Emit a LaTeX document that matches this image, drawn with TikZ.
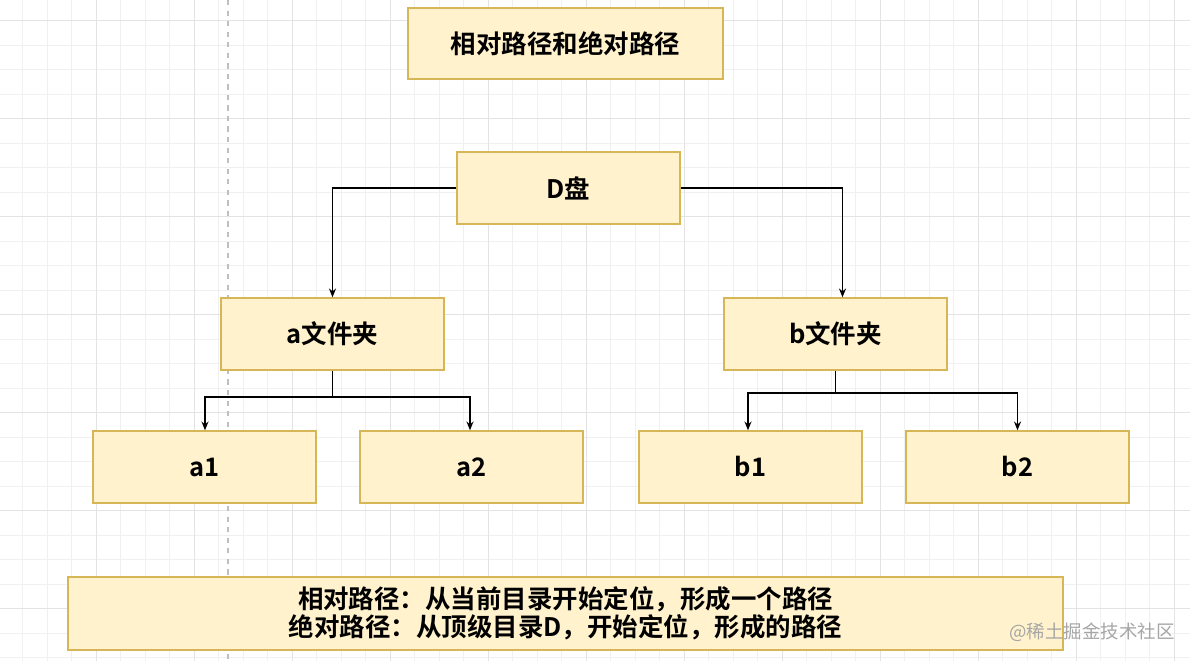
\documentclass[tikz,border=0pt]{standalone}
\usepackage{fontspec}
\setmainfont{Noto Sans CJK SC}[BoldFont={* Bold}]
\begin{document}
\begin{tikzpicture}[x=0.02cm,y=-0.02cm,
  box/.style={draw=boxline,fill=boxfill,line width=0.8pt,minimum width=223*0.02cm,minimum height=72*0.02cm,font=\bfseries\fontsize{14.5}{17}\selectfont,inner sep=0pt},
  arr/.style={-{Stealth[length=5pt,width=4pt]},line width=0.7pt},
  conn/.style={line width=0.7pt}]
\definecolor{boxfill}{HTML}{FFF2CC}
\definecolor{boxline}{HTML}{D6B656}
\usetikzlibrary{arrows.meta}
\useasboundingbox (0,0) rectangle (1190,661);
\fill[white] (0,0) rectangle (1190,661);
\foreach \i in {0,...,49} \draw[gray!12,line width=0.3pt] (\i*24.5-2,0) -- (\i*24.5-2,661);
\foreach \i in {0,...,27} \draw[gray!12,line width=0.3pt] (0,\i*24.5-4) -- (1190,\i*24.5-4);
\foreach \i in {0,...,12} \draw[gray!22,line width=0.5pt] (\i*98-2,0) -- (\i*98-2,661);
\foreach \i in {0,...,7} \draw[gray!22,line width=0.5pt] (0,\i*98+20) -- (1190,\i*98+20);
\draw[gray!50,dashed,line width=0.6pt] (228,0) -- (228,661);
\node[box,minimum width=315*0.02cm,minimum height=71*0.02cm] (t) at (565.5,43.5) {相对路径和绝对路径};
\node[box] (d) at (568.5,188) {D盘};
\node[box] (a) at (332.5,334) {a文件夹};
\node[box] (b) at (835.5,334) {b文件夹};
\node[box] (a1) at (204.5,467) {a1};
\node[box] (a2) at (471.5,467) {a2};
\node[box] (b1) at (750.5,467) {b1};
\node[box] (b2) at (1017.5,467) {b2};
\node[box,minimum width=995*0.02cm,minimum height=73*0.02cm,align=center,font=\bfseries\fontsize{14.5}{16}\selectfont] (n) at (565.5,613.5) {相对路径：从当前目录开始定位，形成一个路径\\绝对路径：从顶级目录D，开始定位，形成的路径};
\node[text=gray!70,font=\fontsize{10.5}{12}\selectfont] (w) at (1092,632) {@稀土掘金技术社区};
\draw[arr] (d.west) -| (a.north);
\draw[arr] (d.east) -| ([xshift=7*0.02cm]b.north);
\coordinate (aj) at (332.5,397);
\coordinate (bj) at (835.5,393);
\draw[conn] (a.south) -- (aj);
\draw[arr] (aj) -| ([xshift=0.5*0.02cm]a1.north);
\draw[arr] (aj) -| ([xshift=-1.5*0.02cm]a2.north);
\draw[conn] (b.south) -- (bj);
\draw[arr] (bj) -| ([xshift=-2.5*0.02cm]b1.north);
\draw[arr] (bj) -| (b2.north);
\end{tikzpicture}
\end{document}
